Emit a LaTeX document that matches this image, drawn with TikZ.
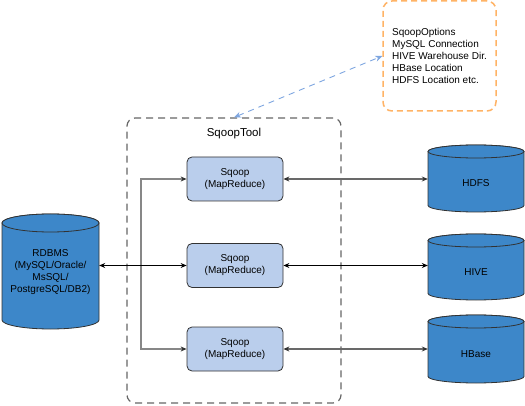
\documentclass[tikz,border=0pt]{standalone}
\usepackage{fontspec}
\setmainfont{Liberation Sans}
\usetikzlibrary{arrows.meta}
\definecolor{cylfill}{RGB}{61,135,201}
\definecolor{boxfill}{RGB}{186,206,236}
\definecolor{edge}{RGB}{50,50,50}
\definecolor{optorange}{RGB}{255,179,102}
\definecolor{linkblue}{RGB}{126,166,224}
\definecolor{conn}{RGB}{105,105,105}
\definecolor{vconn}{RGB}{135,135,135}
\definecolor{toolgray}{RGB}{102,102,102}
\begin{document}
\begin{tikzpicture}[x=1pt,y=-1pt,
  every node/.style={font=\fontsize{10}{12}\selectfont},
  sqoopbox/.style={draw=edge,fill=boxfill,rounded corners=5pt,minimum width=96pt,minimum height=44pt,align=center,inner sep=0pt,line width=0.8pt},
  cylbody/.style={draw=edge,fill=cylfill,line width=0.8pt},
  cyllabel/.style={inner sep=0pt,minimum width=96pt,align=center},
  conline/.style={draw=conn,line width=1.1pt,{Stealth[length=6pt,width=5pt,color=edge]}-{Stealth[length=6pt,width=5pt,color=edge]}},
  blackline/.style={line width=0.8pt,draw=black,{Stealth[length=6pt,width=5pt]}-{Stealth[length=6pt,width=5pt]}}
]
\useasboundingbox (0,0) rectangle (525,406);

% options box
\node[draw=optorange,line width=1.5pt,dash pattern=on 6pt off 4pt,rounded corners=9pt,
      minimum width=113pt,minimum height=110pt,align=left,inner sep=0pt] (opts) at (439.5,56)
  {SqoopOptions\\MySQL Connection\\HIVE Warehouse Dir.\\HBase Location\\HDFS Location etc.};

% SqoopTool box
\node[draw=toolgray,line width=1.2pt,dash pattern=on 7pt off 5pt,rounded corners=8pt,
      minimum width=214pt,minimum height=285pt,inner sep=0pt] (tool) at (234,260.5) {};
\node[font=\fontsize{11.5}{13}\selectfont] (toollabel) at (234,134) {SqoopTool};

% link between tool and options
\draw[linkblue,line width=0.9pt,dash pattern=on 6pt off 5pt,
      {Stealth[length=7pt,width=6pt]}-{Stealth[length=7pt,width=6pt]}] (tool.north) -- (opts.west);

% sqoop boxes
\node[sqoopbox] (s1) at (235,179) {Sqoop\\(MapReduce)};
\node[sqoopbox] (s2) at (235,265.5) {Sqoop\\(MapReduce)};
\node[sqoopbox] (s3) at (235,349) {Sqoop\\(MapReduce)};

% RDBMS cylinder
\path[cylbody] (2,223) -- (2,320) arc[start angle=180,end angle=0,x radius=48.5,y radius=9] -- (99,223) arc[start angle=0,end angle=-180,x radius=48.5,y radius=9] -- cycle;
\path[cylbody] (50.5,223) ellipse[x radius=48.5,y radius=9];
\node[cyllabel,minimum width=97pt] (rdbms) at (50.5,272) {RDBMS\\(MySQL/Oracle/\\MsSQL/\\PostgreSQL/DB2)};

% HDFS
\path[cylbody] (428,151.5) -- (428,205.5) arc[start angle=180,end angle=0,x radius=48,y radius=6.5] -- (524,151.5) arc[start angle=0,end angle=-180,x radius=48,y radius=6.5] -- cycle;
\path[cylbody] (476,151.5) ellipse[x radius=48,y radius=6.5];
\node[cyllabel] (hdfs) at (476,183) {HDFS};

% HIVE
\path[cylbody] (428,240.5) -- (428,293.5) arc[start angle=180,end angle=0,x radius=48,y radius=6.5] -- (524,240.5) arc[start angle=0,end angle=-180,x radius=48,y radius=6.5] -- cycle;
\path[cylbody] (476,240.5) ellipse[x radius=48,y radius=6.5];
\node[cyllabel] (hive) at (476,272) {HIVE};

% HBase
\path[cylbody] (428,321.5) -- (428,376.5) arc[start angle=180,end angle=0,x radius=48,y radius=6.5] -- (524,321.5) arc[start angle=0,end angle=-180,x radius=48,y radius=6.5] -- cycle;
\path[cylbody] (476,321.5) ellipse[x radius=48,y radius=6.5];
\node[cyllabel] (hbase) at (476,354) {HBase};

% connectors
\coordinate (lx) at (141,0);
\draw[conline,draw=vconn,line width=1.4pt] (s1.west) -- (s1.west -| lx) -- (s3.west -| lx) -- (s3.west);
\draw[blackline] (s2.west -| rdbms.east) -- (s2.west);
\draw[conline] (s1.east) -- (s1.east -| hdfs.west);
\draw[blackline] (s2.east) -- (s2.east -| hive.west);
\draw[conline] (s3.east) -- (s3.east -| hbase.west);
\end{tikzpicture}
\end{document}
